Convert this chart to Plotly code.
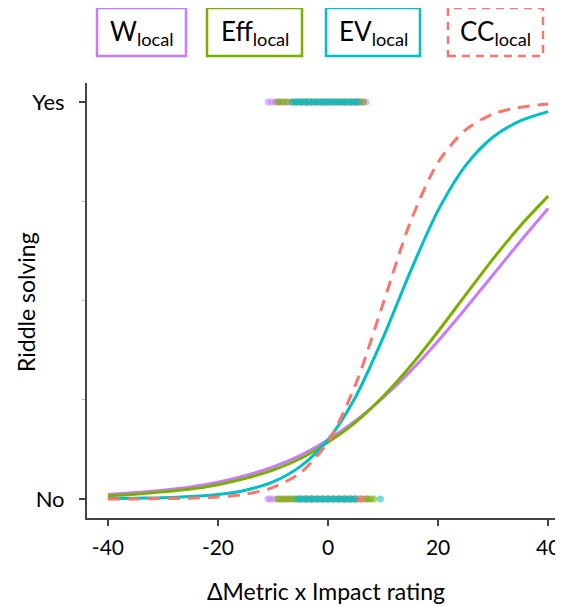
import plotly.graph_objects as go

# ---- data ----
x_grid = [-40, -35, -30, -25, -20, -15, -10, -5, 0, 5, 10, 15, 20, 25, 30, 35, 40]

w_local = [0.011, 0.016, 0.022, 0.030, 0.042, 0.059, 0.081, 0.110, 0.149, 0.197, 0.255, 0.322, 0.398, 0.480, 0.565, 0.650, 0.732]
eff_local = [0.008, 0.012, 0.018, 0.025, 0.036, 0.052, 0.073, 0.102, 0.143, 0.193, 0.258, 0.335, 0.422, 0.514, 0.605, 0.689, 0.763]
ev_local = [0.001, 0.002, 0.003, 0.006, 0.011, 0.022, 0.043, 0.082, 0.149, 0.257, 0.406, 0.574, 0.727, 0.840, 0.912, 0.953, 0.976]
cc_local = [0.000, 0.000, 0.001, 0.002, 0.005, 0.012, 0.029, 0.066, 0.144, 0.288, 0.492, 0.699, 0.848, 0.930, 0.970, 0.987, 0.995]

# observed outcomes (x positions of raw points), Yes = 1, No = 0
w_yes = [-10.9, -10.3, -9.6, -9.0, -8.3, -7.5, -6.6, -5.8, -4.9, -4.0, -3.1, -2.2, -1.3, -0.4, 0.5, 1.4, 2.3, 3.2, 4.1, 5.0, 5.8, 6.4, 6.9]
eff_yes = [-9.2, -8.6, -8.0, -7.3, -6.5, -5.7, -4.8, -3.9, -3.0, -2.1, -1.2, -0.3, 0.6, 1.5, 2.4, 3.3, 4.2, 5.1, 5.8, 6.4]
ev_yes = [-6.4, -6.0, -5.5, -5.0, -4.5, -4.0, -3.5, -3.0, -2.5, -2.0, -1.5, -1.0, -0.5, 0.0, 0.5, 1.0, 1.5, 2.0, 2.5, 3.0, 3.5, 4.0, 4.5, 5.0, 5.5]
cc_yes = [-5.0, -4.0, -3.0, -2.0, -1.0, 0.0, 1.0, 2.0, 3.0, 4.0, 5.0, 5.6]

w_no = [-10.9, -10.5, -9.8, -9.0, -8.0, -7.0, -6.0, -5.0, -4.0, -3.0, -2.0, -1.0, 0.0, 1.0, 2.0, 3.0, 4.0, 5.0, 6.0, 7.0]
eff_no = [-9.2, -8.7, -8.2, -7.7, -7.2, -6.7, -6.2, -5.7, -5.0, -4.0, -3.0, -2.0, -1.0, 0.0, 1.0, 2.0, 3.0, 4.0, 5.0, 6.0, 6.8, 7.3, 7.8, 8.3]
ev_no = [-5.6, -5.1, -4.6, -4.1, -3.6, -3.1, -2.6, -2.1, -1.6, -1.1, -0.6, -0.1, 0.4, 0.9, 1.4, 1.9, 2.4, 2.9, 3.4, 3.9, 4.4, 4.9, 9.5]
cc_no = [-5.0, -4.0, -3.0, -2.0, -1.0, 0.0, 1.0, 2.0, 3.0, 4.0, 5.0, 5.6, 6.2]

series_names = ["W", "Eff", "EV", "CC"]
x_ticks = [-40, -20, 0, 20, 40]
x_ticklabels = ["-40", "-20", "0", "20", "40"]
y_ticks = [0, 1]
y_ticklabels = ["No", "Yes"]

# ---- style ----
COL = {"W": "#C77CFF", "Eff": "#7CAE00", "EV": "#00BFC4", "CC": "#F8766D"}
FONT = "Lato, 'Open Sans', sans-serif"
OFF = 8                      # page body margin in the browser
W, H = 563 - OFF, 607 - OFF
ML, MR, MT = 87 - OFF, 0, 83 - OFF
MB = H - (518 - OFF)

fig = go.Figure()

pts = {"W": (w_yes, w_no), "Eff": (eff_yes, eff_no), "EV": (ev_yes, ev_no), "CC": (cc_yes, cc_no)}
for name in ["W", "Eff", "CC", "EV"]:
    yes, no = pts[name]
    fig.add_trace(go.Scatter(
        x=list(yes) + list(no),
        y=[1] * len(yes) + [0] * len(no),
        mode="markers",
        marker=dict(size=7, color=COL[name], opacity=0.55, line=dict(width=0)),
        showlegend=False, hoverinfo="skip"))

curves = {"W": w_local, "Eff": eff_local, "EV": ev_local, "CC": cc_local}
for name in ["W", "Eff", "EV", "CC"]:
    fig.add_trace(go.Scatter(
        x=x_grid, y=curves[name], mode="lines",
        line=dict(color=COL[name], width=3, shape="spline", smoothing=0.8,
                  dash="12px,8px" if name == "CC" else "solid"),
        showlegend=False, name=name))

# legend boxes (reference pixel positions -> paper coords)
pw = W - ML - MR
ph = H - MT - MB
def px(xp):
    return (xp - OFF - ML) / pw
def py(yp):
    return (H - MB - (yp - OFF)) / ph

boxes = [(97, 186), (207, 302), (326, 420), (448, 543)]
for (x0, x1), name in zip(boxes, series_names):
    fig.add_shape(type="rect", xref="paper", yref="paper",
                  x0=px(x0), x1=px(x1), y0=py(56), y1=py(8),
                  line=dict(color=COL[name], width=2.5,
                            dash="8px,6px" if name == "CC" else "solid"),
                  fillcolor="white", layer="above")
    fig.add_annotation(xref="paper", yref="paper",
                       x=px((x0 + x1) / 2), y=py(33), xanchor="center", yanchor="middle",
                       text=f"{name}<sub>local</sub>", showarrow=False,
                       font=dict(family=FONT, size=26, color="black"))

# axis titles
fig.add_annotation(xref="paper", yref="paper", x=px(326), y=py(591),
                   xanchor="center", yanchor="middle", showarrow=False,
                   text="ΔMetric x Impact rating", font=dict(family=FONT, size=23, color="black"))
fig.add_annotation(xref="paper", yref="paper", x=px(26), y=py(302),
                   xanchor="center", yanchor="middle", showarrow=False, textangle=-90,
                   text="Riddle solving", font=dict(family=FONT, size=23, color="black"))

fig.update_layout(
    width=W, height=H,
    margin=dict(l=ML, r=MR, t=MT, b=MB, autoexpand=False),
    paper_bgcolor="white", plot_bgcolor="white",
    font=dict(family=FONT, size=20, color="black"),
    showlegend=False,
)
fig.update_xaxes(
    range=[-43.8, 42.7], automargin=False,
    tickvals=x_ticks, ticktext=x_ticklabels, ticks="outside", ticklen=6, tickwidth=1.5, tickcolor="#444",
    showline=True, linecolor="#444", linewidth=2, showgrid=False, zeroline=False,
    tickfont=dict(size=21, family=FONT), ticklabelstandoff=4,
)
fig.update_yaxes(
    range=[-0.048, 1.048], automargin=False,
    tickvals=y_ticks, ticktext=y_ticklabels, ticks="outside", ticklen=6, tickwidth=1.5, tickcolor="#444",
    showline=True, linecolor="#444", linewidth=2,
    showgrid=False, zeroline=False,
    minor=dict(tickvals=[0.25, 0.5, 0.75], ticks="outside", ticklen=3, tickcolor="#bbb", tickwidth=1),
    tickfont=dict(size=22, family=FONT), ticklabelstandoff=10,
)

fig.write_html("out.html")
